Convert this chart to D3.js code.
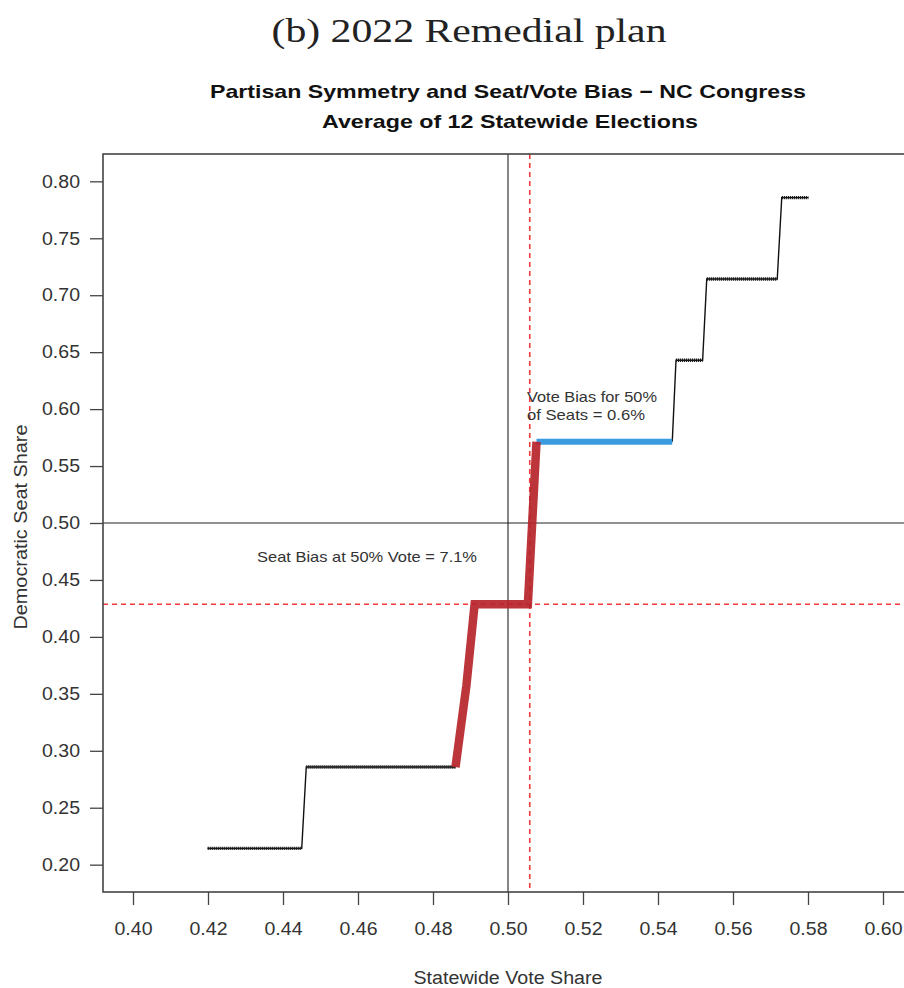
<!DOCTYPE html>
<html>
<head>
<meta charset="utf-8">
<script src="https://cdn.jsdelivr.net/npm/d3@7"></script>
<style>
  body { margin: 0; background: #fff; }
  svg { display: block; }
</style>
</head>
<body>
<div id="chart"></div>
<script>
// step curve (vote share -> seat share)
var lowVote  = [0.4199, 0.4450, 0.4462, 0.4860];
var lowSeat  = [0.2143, 0.2143, 0.2857, 0.2857];
var redVote  = [0.4860, 0.4889, 0.4911, 0.5053, 0.5076];
var redSeat  = [0.2857, 0.3571, 0.4286, 0.4286, 0.5714];
var blueVote = [0.5076, 0.5438];
var blueSeat = [0.5714, 0.5714];
var highVote = [0.5438, 0.5448, 0.5519, 0.5530, 0.5718, 0.5730, 0.5801];
var highSeat = [0.5714, 0.6429, 0.6429, 0.7143, 0.7143, 0.7857, 0.7857];

// reference lines
var evenVote = 0.5, evenSeat = 0.5;
var biasVote = 0.5058, biasSeat = 0.4286;

var xTicks = [0.40, 0.42, 0.44, 0.46, 0.48, 0.50, 0.52, 0.54, 0.56, 0.58, 0.60];
var yTicks = [0.20, 0.25, 0.30, 0.35, 0.40, 0.45, 0.50, 0.55, 0.60, 0.65, 0.70, 0.75, 0.80];

var W = 904, H = 988;
var pLeft = 103, pTop = 154, pRight = 913, pBottom = 892;

var svg = d3.select("#chart").append("svg")
    .attr("width", W)
    .attr("height", H);

var x = d3.scaleLinear().domain([0.392, 0.608]).range([pLeft, pRight]);
var y = d3.scaleLinear().domain([0.176, 0.824]).range([pBottom, pTop]);

svg.append("defs").append("clipPath").attr("id", "plotclip")
   .append("rect")
   .attr("x", pLeft).attr("y", pTop)
   .attr("width", pRight - pLeft).attr("height", pBottom - pTop);

// titles
svg.append("text")
   .attr("x", 469).attr("y", 42)
   .attr("text-anchor", "middle")
   .attr("textLength", 395).attr("lengthAdjust", "spacingAndGlyphs")
   .style("font-family", "'Liberation Serif', serif")
   .style("font-size", "33px")
   .style("fill", "#222")
   .text("(b) 2022 Remedial plan");

svg.append("text")
   .attr("x", 508).attr("y", 98)
   .attr("text-anchor", "middle")
   .attr("textLength", 596).attr("lengthAdjust", "spacingAndGlyphs")
   .style("font-family", "'Liberation Sans', Arial, sans-serif")
   .style("font-weight", "bold")
   .style("font-size", "19px")
   .style("fill", "#111")
   .text("Partisan Symmetry and Seat/Vote Bias \u2212 NC Congress");

svg.append("text")
   .attr("x", 510).attr("y", 128)
   .attr("text-anchor", "middle")
   .attr("textLength", 376).attr("lengthAdjust", "spacingAndGlyphs")
   .style("font-family", "'Liberation Sans', Arial, sans-serif")
   .style("font-weight", "bold")
   .style("font-size", "19px")
   .style("fill", "#111")
   .text("Average of 12 Statewide Elections");

// axes
var xAxis = svg.append("g")
    .attr("transform", "translate(0," + pBottom + ")")
    .call(d3.axisBottom(x).tickValues(xTicks).tickFormat(d3.format(".2f"))
          .tickSize(13).tickPadding(17));

var yAxis = svg.append("g")
    .attr("transform", "translate(" + pLeft + ",0)")
    .call(d3.axisLeft(y).tickValues(yTicks).tickFormat(d3.format(".2f"))
          .tickSize(13).tickPadding(10));

[xAxis, yAxis].forEach(function(g) {
    g.select(".domain").remove();
    g.selectAll(".tick line").attr("stroke", "#444").attr("stroke-width", 1.3);
    g.selectAll(".tick text")
     .attr("textLength", 38).attr("lengthAdjust", "spacingAndGlyphs")
     .style("font-family", "'Liberation Sans', Arial, sans-serif")
     .style("font-size", "18px")
     .style("fill", "#333");
});

svg.append("text")
   .attr("x", 508).attr("y", 984)
   .attr("text-anchor", "middle")
   .attr("textLength", 189).attr("lengthAdjust", "spacingAndGlyphs")
   .style("font-family", "'Liberation Sans', Arial, sans-serif")
   .style("font-size", "18px")
   .style("fill", "#333")
   .text("Statewide Vote Share");

svg.append("text")
   .attr("transform", "translate(27,527) rotate(-90)")
   .attr("text-anchor", "middle")
   .attr("textLength", 205).attr("lengthAdjust", "spacingAndGlyphs")
   .style("font-family", "'Liberation Sans', Arial, sans-serif")
   .style("font-size", "18px")
   .style("fill", "#333")
   .text("Democratic Seat Share");

var plot = svg.append("g").attr("clip-path", "url(#plotclip)");

// reference lines
plot.append("line")
    .attr("x1", x(evenVote)).attr("x2", x(evenVote))
    .attr("y1", pTop).attr("y2", pBottom)
    .attr("stroke", "#444").attr("stroke-width", 1.3);

plot.append("line")
    .attr("x1", pLeft).attr("x2", pRight)
    .attr("y1", y(evenSeat)).attr("y2", y(evenSeat))
    .attr("stroke", "#222").attr("stroke-width", 1.1);

plot.append("line")
    .attr("x1", x(biasVote)).attr("x2", x(biasVote))
    .attr("y1", pTop).attr("y2", pBottom)
    .attr("stroke", "#f23a3a").attr("stroke-width", 1.6)
    .attr("stroke-dasharray", "5,4");

plot.append("line")
    .attr("x1", pLeft).attr("x2", pRight)
    .attr("y1", y(biasSeat)).attr("y2", y(biasSeat))
    .attr("stroke", "#f23a3a").attr("stroke-width", 1.6)
    .attr("stroke-dasharray", "5,4");

var line = d3.line()
    .x(function(d) { return x(d[0]); })
    .y(function(d) { return y(d[1]); });

function pairs(vs, ss) { return vs.map(function(v, i) { return [v, ss[i]]; }); }

// black step curve: thin line plus dense points on the flat parts
[pairs(lowVote, lowSeat), pairs(highVote, highSeat)].forEach(function(pts) {
    plot.append("path")
        .datum(pts)
        .attr("fill", "none")
        .attr("stroke", "#111")
        .attr("stroke-width", 1.4)
        .attr("d", line);
    for (var i = 0; i < pts.length - 1; i++) {
        if (pts[i][1] === pts[i + 1][1]) {
            plot.append("path")
                .datum([pts[i], pts[i + 1]])
                .attr("fill", "none")
                .attr("stroke", "#1a1a1a")
                .attr("stroke-width", 3.4)
                .attr("stroke-dasharray", "1.2,0.8")
                .attr("d", line);
        }
    }
});

plot.append("path")
    .datum(pairs(blueVote, blueSeat))
    .attr("fill", "none")
    .attr("stroke", "#3a9be0")
    .attr("stroke-width", 6)
    .attr("d", line);

plot.append("path")
    .datum(pairs(redVote, redSeat))
    .attr("fill", "none")
    .attr("stroke", "#b5242a")
    .attr("stroke-opacity", 0.92)
    .attr("stroke-width", 8.5)
    .attr("stroke-linejoin", "miter")
    .attr("d", line);

// annotations
svg.append("text")
   .attr("x", 527).attr("y", 402)
   .attr("textLength", 130).attr("lengthAdjust", "spacingAndGlyphs")
   .style("font-family", "'Liberation Sans', Arial, sans-serif")
   .style("font-size", "15px")
   .style("fill", "#333")
   .text("Vote Bias for 50%");

svg.append("text")
   .attr("x", 527).attr("y", 420)
   .attr("textLength", 118).attr("lengthAdjust", "spacingAndGlyphs")
   .style("font-family", "'Liberation Sans', Arial, sans-serif")
   .style("font-size", "15px")
   .style("fill", "#333")
   .text("of Seats = 0.6%");

svg.append("text")
   .attr("x", 257).attr("y", 562)
   .attr("textLength", 220).attr("lengthAdjust", "spacingAndGlyphs")
   .style("font-family", "'Liberation Sans', Arial, sans-serif")
   .style("font-size", "15px")
   .style("fill", "#333")
   .text("Seat Bias at 50% Vote = 7.1%");

// plot box
svg.append("rect")
   .attr("x", pLeft).attr("y", pTop)
   .attr("width", pRight - pLeft).attr("height", pBottom - pTop)
   .attr("fill", "none")
   .attr("stroke", "#444")
   .attr("stroke-width", 1.6);
</script>
</body>
</html>
